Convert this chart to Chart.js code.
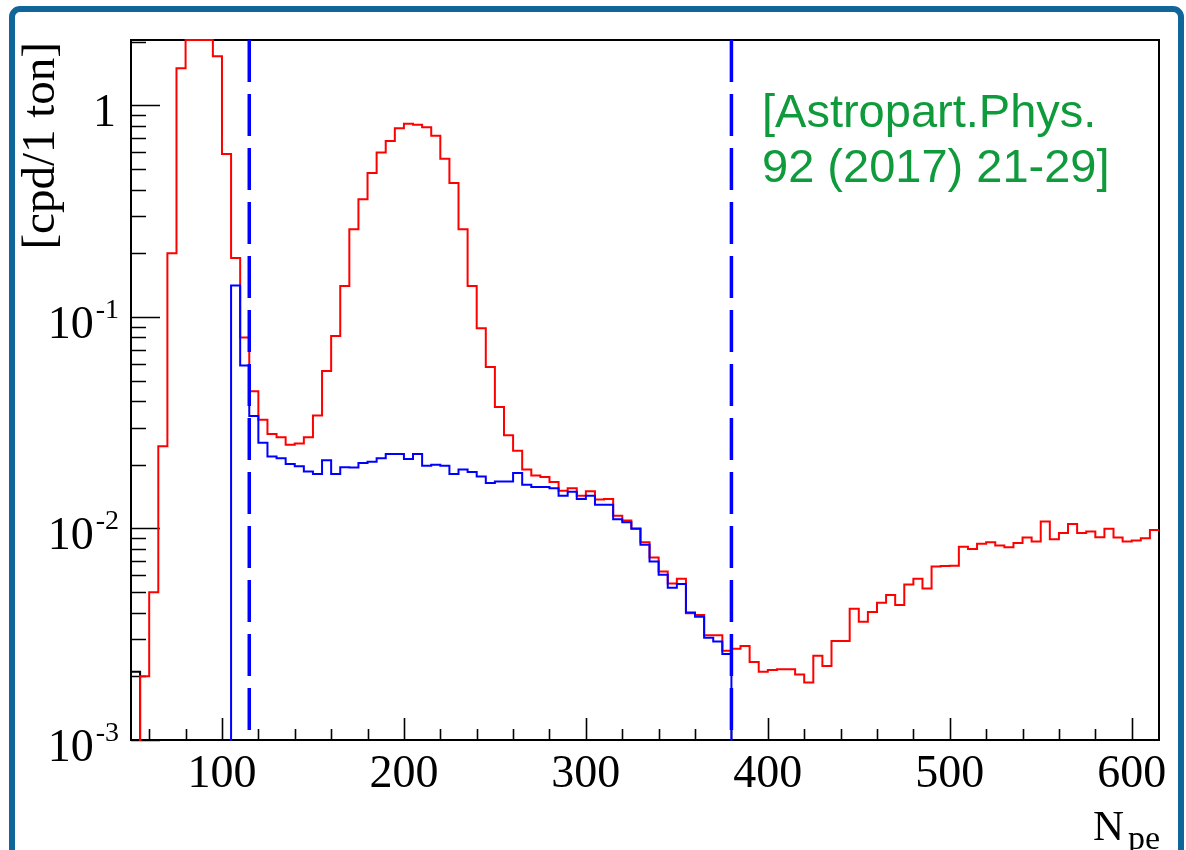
<!DOCTYPE html>
<html>
<head>
<meta charset="utf-8">
<title>N_pe spectrum</title>
<script src="https://cdn.jsdelivr.net/npm/chart.js@4.4.1/dist/chart.umd.min.js"></script>
<style>
  html, body { margin: 0; padding: 0; background: #fff; }
  canvas { display: block; }
</style>
</head>
<body>
<canvas id="spectrumChart" width="1186" height="850"></canvas>
<script>
(function spectrum () {
    'use strict';

    // histogram binning in N_pe
    var BIN_WIDTH = 5;
    var RED_FIRST_EDGE = 50;
    var BLUE_FIRST_EDGE = 105;
    var BLACK_FIRST_EDGE = 50;

    // [cpd/1 ton] per bin, one row per 50 N_pe
    var redValues = [
        0, 0.002, 0.005, 0.0245, 0.20, 1.50, 2.6, 3.2, 2.5, 1.71,
        0.59, 0.19, 0.080, 0.0446, 0.0327, 0.028, 0.027, 0.0249, 0.0252, 0.027,
        0.0342, 0.0555, 0.0813, 0.140, 0.26, 0.36, 0.48, 0.60, 0.68, 0.78,
        0.82, 0.81, 0.79, 0.72, 0.56, 0.43, 0.26, 0.140, 0.0884, 0.058,
        0.0375, 0.0276, 0.0233, 0.019, 0.0178, 0.0175, 0.0166, 0.0151, 0.0155, 0.0143,
        0.0150, 0.0137, 0.0138, 0.0115, 0.0109, 0.0100, 0.0086, 0.0073, 0.00626, 0.0055,
        0.00578, 0.00397, 0.0039, 0.00313, 0.00313, 0.00264, 0.0027, 0.00278, 0.00234, 0.0021,
        0.00214, 0.00216, 0.00216, 0.00204, 0.00187, 0.0025, 0.00224, 0.00294, 0.00294, 0.00417,
        0.00362, 0.00403, 0.00446, 0.00485, 0.00435, 0.00544, 0.00578, 0.00521, 0.00661, 0.00665,
        0.00667, 0.00819, 0.00801, 0.00847, 0.00862, 0.00832, 0.00815, 0.00853, 0.00906, 0.00869,
        0.0108, 0.0089, 0.00951, 0.0105, 0.00951, 0.00968, 0.0091, 0.00997, 0.00906, 0.00869,
        0.00877, 0.00899, 0.00983
    ];
    var blueValues = [
        0.141, 0.059, 0.034, 0.0254, 0.0219, 0.0215, 0.0202, 0.0197, 0.0186,
        0.0181, 0.021, 0.0181, 0.0195, 0.0194, 0.0204, 0.0207, 0.0215, 0.0225, 0.0225,
        0.0213, 0.0225, 0.0198, 0.0200, 0.0198, 0.0181, 0.019, 0.0185, 0.0176, 0.0164,
        0.0167, 0.0167, 0.0183, 0.0161, 0.0157, 0.0157, 0.0155, 0.0143, 0.0149, 0.0138,
        0.0143, 0.01295, 0.01295, 0.01107, 0.0107, 0.00997, 0.00838, 0.00698, 0.00604, 0.00525,
        0.00546, 0.00401, 0.00383, 0.00304, 0.00292, 0.00255
    ];
    var blackValues = [0.0021];

    var cutValues = [115, 380];

    var X_MIN = 50;
    var X_MAX = 615;
    var Y_MIN = 1e-3;
    var Y_MAX = 2.04;
    var FLOOR = Y_MIN / 10;

    var xTickValues = [100, 200, 300, 400, 500, 600];
    var xTickLabels = ['100', '200', '300', '400', '500', '600'];
    var yTickValues = [1e-3, 1e-2, 1e-1, 1];
    var yTickLabels = [['10', '-3'], ['10', '-2'], ['10', '-1'], ['1', '']];
    var noteLines = ['[Astropart.Phys.', '92 (2017) 21-29]'];

    var SERIF = "'Liberation Serif', 'Times New Roman', serif";
    var SANS = "'Liberation Sans', Arial, sans-serif";

    // ROOT-like outline: every bin is a flat top joined by vertical edges
    function histPoints (values, firstEdge, closeEdges) {
        var pts = [];

        if (closeEdges) {
            pts.push({ x: firstEdge, y: FLOOR });
        }
        values.forEach(function addBin (v, i) {
            var lo = firstEdge + i * BIN_WIDTH;
            var y = v > 0 ? Math.min(v, Y_MAX) : FLOOR;

            pts.push({ x: lo, y: y }, { x: lo + BIN_WIDTH, y: y });
        });
        if (closeEdges) {
            pts.push({ x: firstEdge + values.length * BIN_WIDTH, y: FLOOR });
        }
        return pts;
    }

    function histDataset (pts, colour, width) {
        return {
            data: pts,
            borderColor: colour,
            borderWidth: width,
            borderJoinStyle: 'miter',
            borderCapStyle: 'butt',
            pointRadius: 0,
            tension: 0,
            fill: false,
            clip: { left: 0, top: 2, right: 0, bottom: 1 }
        };
    }

    var datasets = cutValues.map(function cutLine (c) {
        var ds = histDataset([{ x: c, y: Y_MAX }, { x: c, y: Y_MIN }], '#0000ff', 3.5);

        ds.borderDash = [42, 12];
        return ds;
    });

    datasets.push(histDataset(histPoints(blueValues, BLUE_FIRST_EDGE, true), '#0000ff', 2));
    datasets.push(histDataset(histPoints(redValues, RED_FIRST_EDGE, false), '#ff0000', 2));
    datasets.push(histDataset(histPoints(blackValues, BLACK_FIRST_EDGE, true), '#000000', 2));

    // white page with the rounded blue border
    var pagePlugin = {
        id: 'page',
        beforeDraw: function drawPage (chart) {
            var ctx = chart.ctx;

            ctx.save();
            ctx.fillStyle = '#ffffff';
            ctx.fillRect(0, 0, chart.width, chart.height);
            ctx.strokeStyle = '#10659a';
            ctx.lineWidth = 6;
            ctx.beginPath();
            ctx.roundRect(12, 9, 1169, 880, 8);
            ctx.stroke();
            ctx.restore();
        }
    };

    // frame, inward ticks and axis labels
    var framePlugin = {
        id: 'frame',
        beforeDatasetsDraw: function drawFrame (chart) {
            var ctx = chart.ctx;
            var area = chart.chartArea;
            var xs = chart.scales.x;
            var ys = chart.scales.y;
            var v, m, d, px, py;

            ctx.save();
            ctx.strokeStyle = '#000000';
            ctx.lineWidth = 2;
            ctx.strokeRect(area.left, area.top, area.right - area.left, area.bottom - area.top);

            ctx.lineWidth = 1.6;
            ctx.beginPath();
            for (v = 60; v <= X_MAX; v += 20) {
                px = Math.round(xs.getPixelForValue(v)) + 0.5;
                ctx.moveTo(px, area.bottom);
                ctx.lineTo(px, area.bottom - (v % 100 === 0 ? 22 : 11));
            }
            for (d = Y_MIN; d <= 1; d *= 10) {
                for (m = 1; m <= 9; m++) {
                    v = m * d;
                    if (v > Y_MAX) {
                        break;
                    }
                    py = Math.round(ys.getPixelForValue(v)) + 0.5;
                    ctx.moveTo(area.left, py);
                    ctx.lineTo(area.left + (m === 1 ? 29 : 15), py);
                }
            }
            ctx.stroke();

            ctx.fillStyle = '#000000';
            ctx.textBaseline = 'alphabetic';
            ctx.font = '46px ' + SERIF;
            ctx.textAlign = 'center';
            xTickValues.forEach(function xLabel (val, i) {
                ctx.fillText(xTickLabels[i], xs.getPixelForValue(val), area.bottom + 47);
            });

            yTickValues.forEach(function yLabel (val, i) {
                var y = ys.getPixelForValue(val);
                var base = yTickLabels[i][0];
                var exp = yTickLabels[i][1];
                var right = 119;

                ctx.textAlign = 'right';
                if (exp) {
                    ctx.font = '28px ' + SERIF;
                    ctx.fillText(exp, right, y + 1);
                    right -= ctx.measureText(exp).width + 2;
                } else {
                    right = 116;
                }
                ctx.font = '46px ' + SERIF;
                ctx.fillText(base, right, y + 21);
            });

            // x title with subscript
            ctx.textAlign = 'right';
            ctx.font = '34px ' + SERIF;
            ctx.fillText('pe', 1160, 849);
            ctx.font = '43px ' + SERIF;
            ctx.fillText('N', 1124, 840);

            // y title
            ctx.save();
            ctx.translate(54, 42);
            ctx.rotate(-Math.PI / 2);
            ctx.font = '47px ' + SERIF;
            ctx.textAlign = 'right';
            ctx.fillText('[cpd/1 ton]', 0, 0);
            ctx.restore();

            // reference note
            ctx.fillStyle = '#0f9a3c';
            ctx.font = '47px ' + SANS;
            ctx.textAlign = 'left';
            noteLines.forEach(function note (line, i) {
                ctx.fillText(line, 762, 127 + i * 55);
            });
            ctx.restore();
        }
    };

    var ctx = document.getElementById('spectrumChart').getContext('2d');

    new Chart(ctx, {
        type: 'line',
        data: { datasets: datasets },
        options: {
            responsive: false,
            animation: false,
            events: [],
            layout: {
                padding: { left: 131, right: 27, top: 40, bottom: 110 }
            },
            scales: {
                x: { type: 'linear', min: X_MIN, max: X_MAX, display: false },
                y: { type: 'logarithmic', min: Y_MIN, max: Y_MAX, display: false }
            },
            plugins: {
                legend: { display: false },
                tooltip: { enabled: false }
            }
        },
        plugins: [pagePlugin, framePlugin]
    });
}());
</script>
</body>
</html>
